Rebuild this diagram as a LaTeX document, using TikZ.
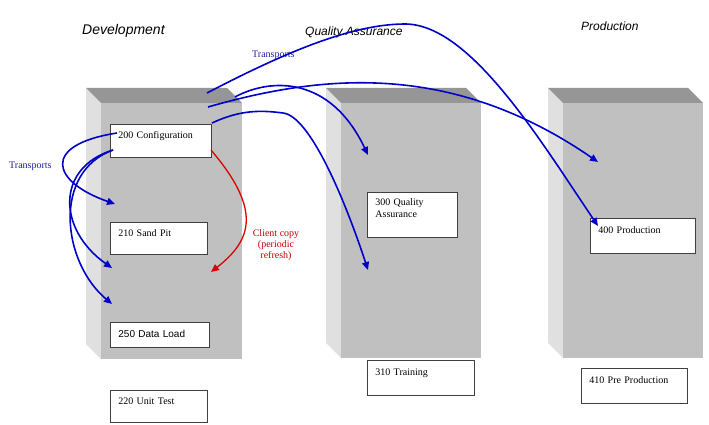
\documentclass[tikz,border=0pt]{standalone}
\usepackage{fontspec}
\setmainfont{Liberation Serif}
\newfontfamily\arialf{Liberation Sans}
\usetikzlibrary{arrows.meta,calc}
\definecolor{frontgray}{RGB}{192,192,192}
\definecolor{topgray}{RGB}{150,150,150}
\definecolor{sidegray}{RGB}{224,224,224}
\definecolor{tblue}{RGB}{0,0,200}
\definecolor{tbluetext}{RGB}{30,30,170}
\definecolor{tred}{RGB}{220,0,0}
\definecolor{tredtext}{RGB}{200,0,0}
\definecolor{boxline}{RGB}{64,64,64}
\newcommand{\srvbox}[4]{%
  \fill[sidegray] (#1-15,#2-15) -- (#1,#2) -- (#1,#4) -- (#1-15,#4-15) -- cycle;
  \fill[topgray] (#1-15,#2-15) -- (#3-15,#2-15) -- (#3,#2) -- (#1,#2) -- cycle;
  \fill[frontgray] (#1,#2) rectangle (#3,#4);
}
\tikzset{
  ibox/.style={draw=boxline, line width=0.8pt, fill=white, anchor=north west,
    inner xsep=8pt, inner ysep=0pt, align=left, font=\fontsize{10}{12}\selectfont},
  title/.style={anchor=base west, inner sep=0pt, font=\arialf\itshape\fontsize{12}{14}\selectfont},
  trlabel/.style={anchor=base west, inner sep=0pt, text=tbluetext, font=\fontsize{10}{12}\selectfont},
  transport/.style={draw=tblue, line width=1.6pt, -{Triangle[length=8pt,width=7pt]}},
  clientcopy/.style={draw=tred, line width=1.3pt, -{Triangle[length=8pt,width=7pt]}}
}
\begin{document}
\begin{tikzpicture}[x=1pt,y=-1pt]
\path[fill=white] (0,0) rectangle (709,425);
\useasboundingbox (0,0) rectangle (709,425);
% servers
\srvbox{101}{103}{242}{359}
\srvbox{341}{103}{481}{358}
\srvbox{563}{103}{703}{358}
% titles
\node[title, font=\arialf\itshape\fontsize{14}{16}\selectfont] (tdev) at (82,35) {Development};
\node[title] (tqa) at (305,36) {Quality Assurance};
\node[title] (tprod) at (581,31) {Production};
% boxes
\node[ibox, text width=85pt, text height=14.5pt, text depth=18.5pt] (b200) at (110,124) {200 Configuration};
\node[ibox, text width=81pt, text height=14.5pt, text depth=17.5pt] (b210) at (110,222) {210 Sand Pit};
\node[ibox, text width=83pt, text height=15pt, text depth=10pt, font=\arialf\fontsize{10}{12}\selectfont] (b250) at (110,322) {250 Data Load};
\node[ibox, text width=81pt, text height=14.5pt, text depth=17.5pt] (b220) at (110,390) {220 Unit Test};
\node[ibox, text width=74pt, text height=13.5pt, text depth=31.5pt] (b300) at (367,192) {300 Quality\\Assurance};
\node[ibox, text width=91pt, text height=15.5pt, text depth=19.5pt] (b310) at (367,360) {310 Training};
\node[ibox, text width=89pt, text height=15.5pt, text depth=19.5pt] (b400) at (590,218) {400 Production};
\node[ibox, text width=90pt, text height=15.5pt, text depth=19.5pt] (b410) at (581,368) {410 Pre Production};
% labels
\node[trlabel] (trl) at (9,168.5) {Transports};
\node[trlabel] (trt) at (252,57.5) {Transports};
\node[align=center, inner sep=0pt, text=tredtext, font=\fontsize{10}{11}\selectfont] (cc) at (276,245) {Client copy\\(periodic\\refresh)};
% arrow end points
\coordinate (s1) at (117,133);
\coordinate (e1) at (115,204);
\coordinate (s2) at (113,150);
\coordinate (e2) at (112,268);
\coordinate (e3) at (112,304);
\coordinate (s4) at (207,93);
\coordinate (m4) at (405,24);
\coordinate (e4) at (598,226);
\coordinate (s5) at (208,107);
\coordinate (e5) at (598,162);
\coordinate (s6) at (235,97);
\coordinate (e6) at (368,155);
\coordinate (s7) at (212,123);
\coordinate (m7) at (283,113);
\coordinate (e7) at (368,270);
\coordinate (sr) at (211,150);
\coordinate (er) at (211,272);
% transports
\draw[transport] (s1) .. controls (40,145) and (52,182) .. (e1);
\draw[transport] (s2) .. controls (55,168) and (58,230) .. (e2);
\draw[transport] (s2) .. controls (52,172) and (62,262) .. (e3);
\draw[transport] (s4) .. controls (280,55) and (350,24) .. (m4) .. controls (470,24) and (540,140) .. (e4);
\draw[transport] (s5) .. controls (320,75) and (450,60) .. (e5);
\draw[transport] (s6) .. controls (270,78) and (330,75) .. (e6);
\draw[transport] (s7) .. controls (240,110) and (260,110) .. (m7) .. controls (310,116) and (345,200) .. (e7);
% client copy
\draw[clientcopy] (sr) .. controls (262,210) and (252,240) .. (er);
\end{tikzpicture}
\end{document}
